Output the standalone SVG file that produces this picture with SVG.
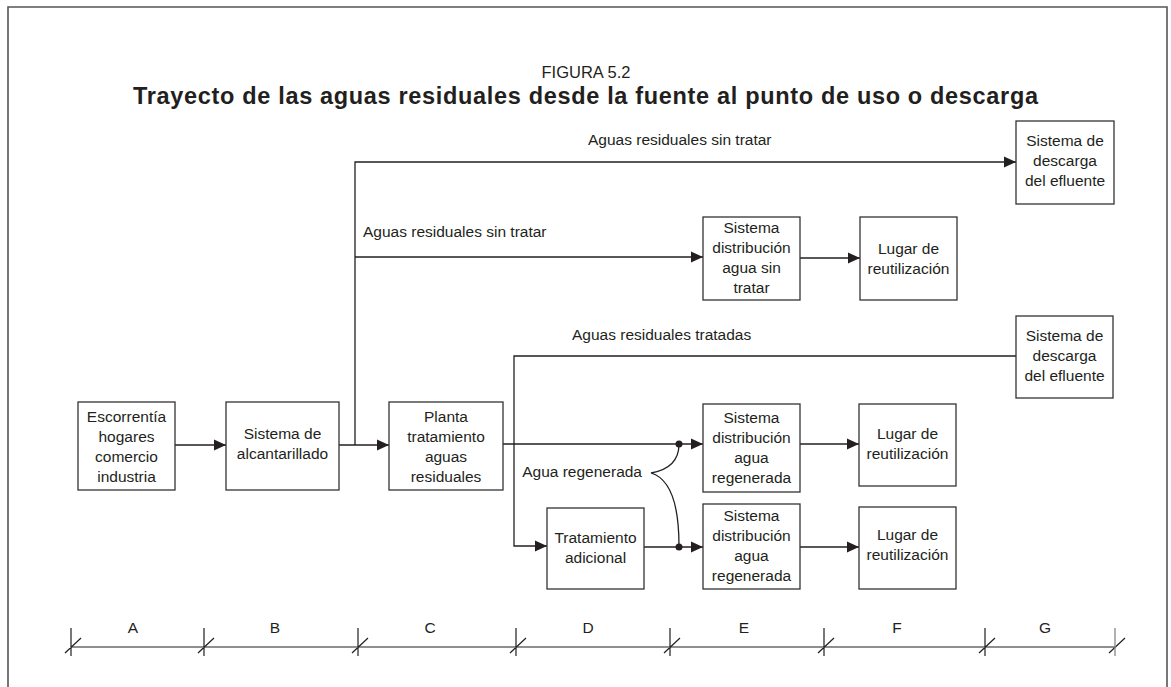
<svg xmlns="http://www.w3.org/2000/svg" width="1171" height="687" viewBox="0 0 1171 687">
  <style>
    text { font-family: "Liberation Sans", Arial, sans-serif; fill: #231f20; }
    .t { font-size: 15.5px; }
    .c { text-anchor: middle; }
    .box { fill: #fff; stroke: #333; stroke-width: 1.3; }
    .ln { fill: none; stroke: #231f20; stroke-width: 1.3; }
    .sc { fill: none; stroke: #231f20; stroke-width: 1.2; }
  </style>
  <defs>
    <marker id="ar" markerUnits="userSpaceOnUse" markerWidth="14" markerHeight="12" refX="12" refY="6" orient="auto">
      <path d="M0,0.5 L12,6 L0,11.5 Z" fill="#231f20"/>
    </marker>
  </defs>
  <rect width="1171" height="687" fill="#fff"/>
  <path d="M8,690 V7 H1167 V690" fill="none" stroke="#555" stroke-width="1.6"/>

  <text x="586" y="78" class="c" style="font-size:16.5px">FIGURA 5.2</text>
  <text x="585.5" y="104" class="c" style="font-size:23.5px;font-weight:bold" textLength="905" lengthAdjust="spacing">Trayecto de las aguas residuales desde la fuente al punto de uso o descarga</text>

  <g id="connectors">
    <line class="ln" x1="175" y1="445" x2="226" y2="445" marker-end="url(#ar)"/>
    <line class="ln" x1="339" y1="445" x2="389" y2="445" marker-end="url(#ar)"/>
    <path class="ln" d="M355,445 V162 H1016" marker-end="url(#ar)"/>
    <line class="ln" x1="355" y1="257" x2="703" y2="257" marker-end="url(#ar)"/>
    <line class="ln" x1="800" y1="258" x2="860" y2="258" marker-end="url(#ar)"/>
    <line class="ln" x1="503" y1="444" x2="703" y2="444" marker-end="url(#ar)"/>
    <path class="ln" d="M1016,356 H514 V546 H547" marker-end="url(#ar)"/>
    <line class="ln" x1="644" y1="547" x2="703" y2="547" marker-end="url(#ar)"/>
    <line class="ln" x1="800" y1="444" x2="859" y2="444" marker-end="url(#ar)"/>
    <line class="ln" x1="800" y1="547" x2="859" y2="547" marker-end="url(#ar)"/>
    <path class="ln" d="M679,444 C679,462 668,470 651,473 C668,478 679,500 679,546"/>
    <circle cx="679" cy="444" r="3.5" fill="#231f20"/>
    <circle cx="679" cy="547" r="3.5" fill="#231f20"/>
    <text x="588" y="145" class="t">Aguas residuales sin tratar</text>
    <text x="363" y="237" class="t">Aguas residuales sin tratar</text>
    <text x="572" y="340" class="t">Aguas residuales tratadas</text>
    <text x="642" y="477" class="t" text-anchor="end">Agua regenerada</text>
  </g>

  <g id="n-escorrentia">
    <rect class="box" x="78" y="402" width="97" height="88"/>
    <text class="t c" x="126.5" y="422">Escorrentía</text>
    <text class="t c" x="126.5" y="442">hogares</text>
    <text class="t c" x="126.5" y="462">comercio</text>
    <text class="t c" x="126.5" y="482">industria</text>
  </g>
  <g id="n-alcantarillado">
    <rect class="box" x="226" y="402" width="113" height="88"/>
    <text class="t c" x="282.5" y="439">Sistema de</text>
    <text class="t c" x="282.5" y="459">alcantarillado</text>
  </g>
  <g id="n-planta">
    <rect class="box" x="389" y="402" width="114" height="88"/>
    <text class="t c" x="446" y="422">Planta</text>
    <text class="t c" x="446" y="442">tratamiento</text>
    <text class="t c" x="446" y="462">aguas</text>
    <text class="t c" x="446" y="482">residuales</text>
  </g>
  <g id="n-tratamiento">
    <rect class="box" x="547" y="508" width="97" height="81"/>
    <text class="t c" x="595.5" y="543">Tratamiento</text>
    <text class="t c" x="595.5" y="563">adicional</text>
  </g>
  <g id="n-descarga1">
    <rect class="box" x="1016" y="121" width="98" height="83"/>
    <text class="t c" x="1065" y="146">Sistema de</text>
    <text class="t c" x="1065" y="166">descarga</text>
    <text class="t c" x="1065" y="186">del efluente</text>
  </g>
  <g id="n-dist-sin-tratar">
    <rect class="box" x="703" y="217" width="97" height="83"/>
    <text class="t c" x="751.5" y="233">Sistema</text>
    <text class="t c" x="751.5" y="253">distribución</text>
    <text class="t c" x="751.5" y="273">agua sin</text>
    <text class="t c" x="751.5" y="293">tratar</text>
  </g>
  <g id="n-lugar1">
    <rect class="box" x="860" y="217" width="97" height="83"/>
    <text class="t c" x="908.5" y="254">Lugar de</text>
    <text class="t c" x="908.5" y="274">reutilización</text>
  </g>
  <g id="n-descarga2">
    <rect class="box" x="1016" y="316" width="97" height="82"/>
    <text class="t c" x="1064.5" y="341">Sistema de</text>
    <text class="t c" x="1064.5" y="361">descarga</text>
    <text class="t c" x="1064.5" y="381">del efluente</text>
  </g>
  <g id="n-dist-reg1">
    <rect class="box" x="703" y="404" width="97" height="88"/>
    <text class="t c" x="751.5" y="423">Sistema</text>
    <text class="t c" x="751.5" y="443">distribución</text>
    <text class="t c" x="751.5" y="463">agua</text>
    <text class="t c" x="751.5" y="483">regenerada</text>
  </g>
  <g id="n-dist-reg2">
    <rect class="box" x="703" y="504" width="97" height="85"/>
    <text class="t c" x="751.5" y="521">Sistema</text>
    <text class="t c" x="751.5" y="541">distribución</text>
    <text class="t c" x="751.5" y="561">agua</text>
    <text class="t c" x="751.5" y="581">regenerada</text>
  </g>
  <g id="n-lugar2">
    <rect class="box" x="859" y="404" width="97" height="82"/>
    <text class="t c" x="907.5" y="439">Lugar de</text>
    <text class="t c" x="907.5" y="459">reutilización</text>
  </g>
  <g id="n-lugar3">
    <rect class="box" x="859" y="507" width="97" height="82"/>
    <text class="t c" x="907.5" y="540">Lugar de</text>
    <text class="t c" x="907.5" y="560">reutilización</text>
  </g>

  <g id="scale">
    <line class="sc" x1="71" y1="647" x2="1115" y2="647"/>
    <path class="sc" d="M71,628 V656 M65,653 L81,638 M204,628 V656 M198,653 L214,638 M358,628 V656 M352,653 L368,638 M516,628 V656 M510,653 L526,638 M670,628 V656 M664,653 L680,638 M824,628 V656 M818,653 L834,638 M985,628 V656 M979,653 L995,638 M1109,653 L1125,638"/>
    <path d="M1115,628 V656" fill="none" stroke="#888" stroke-width="1.3"/>
    <text class="t c" x="133" y="633">A</text>
    <text class="t c" x="275" y="633">B</text>
    <text class="t c" x="430" y="633">C</text>
    <text class="t c" x="588" y="633">D</text>
    <text class="t c" x="744" y="633">E</text>
    <text class="t c" x="897" y="633">F</text>
    <text class="t c" x="1045" y="633">G</text>
  </g>
</svg>
